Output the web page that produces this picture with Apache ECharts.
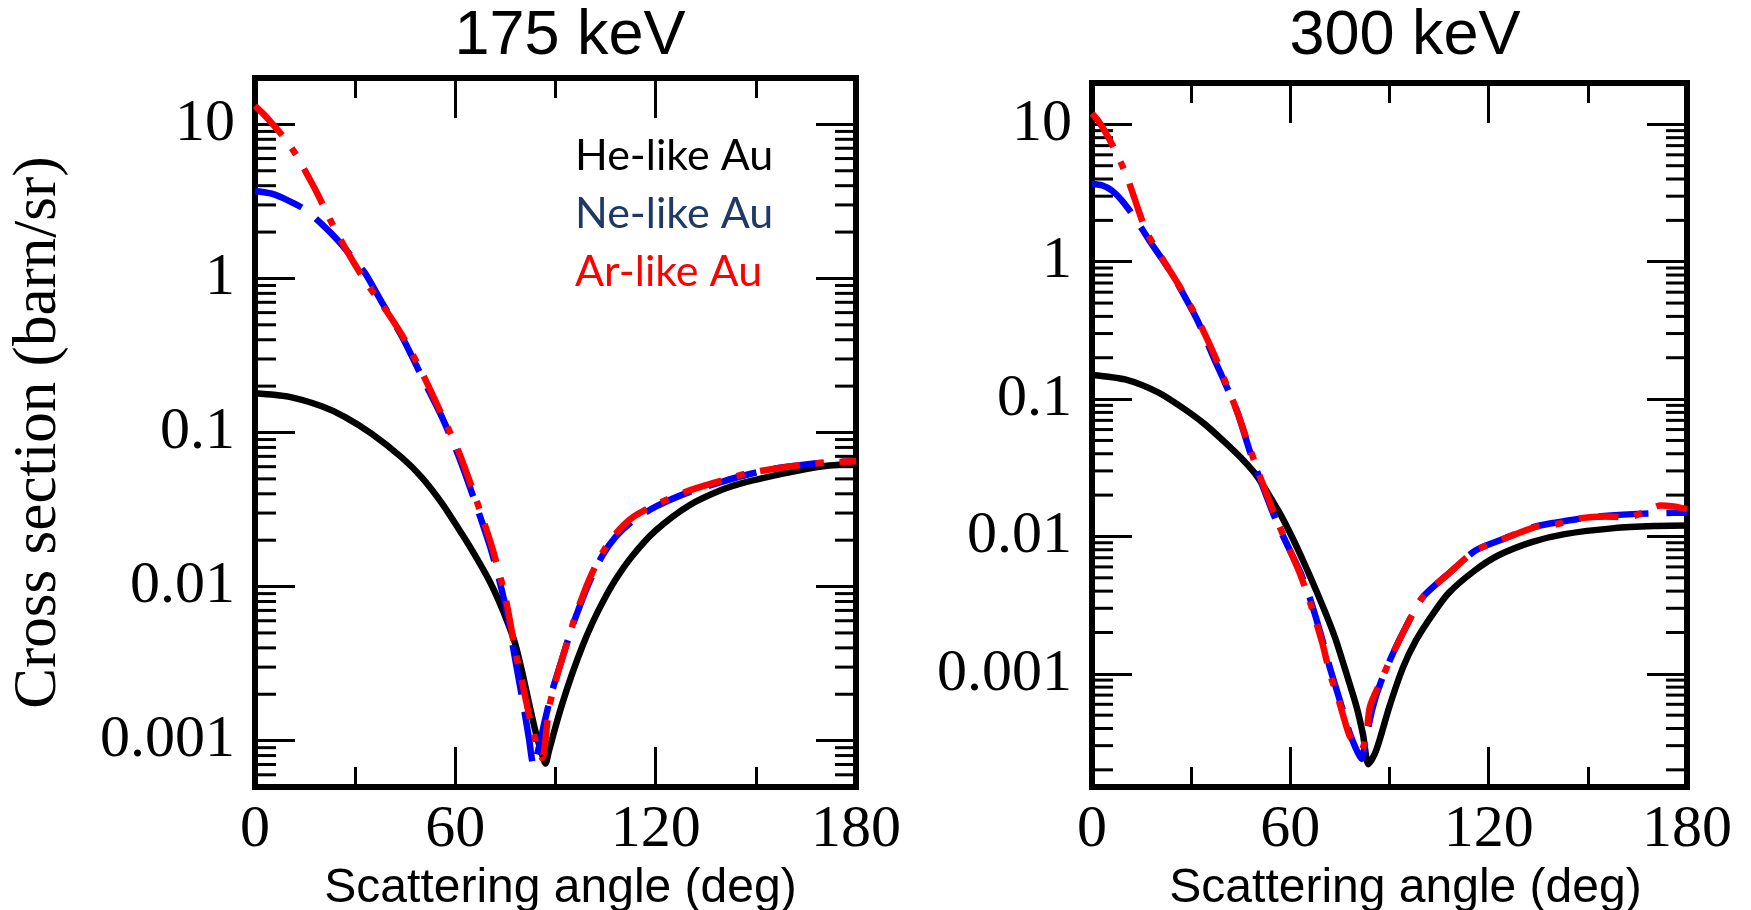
<!DOCTYPE html>
<html>
<head>
<meta charset="utf-8">
<script src="https://cdn.jsdelivr.net/npm/echarts@6/dist/echarts.min.js"></script>
<style>
html,body{margin:0;padding:0;background:#fff;}
#chart{width:1751px;height:910px;}
</style>
</head>
<body>
<div id="chart"></div>
<script>
// ---------- data ----------
const panelTitles = ['175 keV', '300 keV'];
const seriesNames = ['He-like Au', 'Ne-like Au', 'Ar-like Au'];
const xTickInterval = 60;
const xRange = [0, 180];
const yRange175 = [0.0005, 20];
const yRange300 = [0.00015, 20];

// 175 keV
const ang175He = [0,10,20,27,35,44,50,56,62,66,70,73,76,78,80,82,84,86,87,88,90,92,95,98,101,104,108,113,120,130,140,147,155,165,172,180];
const he175    = [0.18,0.171,0.148,0.126,0.098,0.0687,0.051,0.0347,0.0219,0.0158,0.0111,0.0081,0.0056,0.0042,0.0028,0.00178,0.00115,0.00081,0.00071,0.00085,0.00123,0.00173,0.00272,0.00407,0.00578,0.00783,0.0111,0.0158,0.0231,0.0336,0.0426,0.0476,0.0523,0.058,0.061,0.063];
const ang175Ne = [0,5,10,15,20,25,30,33,38,44,50,56,61,66,71,75,78,80,82,83.5,85,87,89,91,94,96,100,104,108,113,120,130,140,147,155,165,172,180];
const ne175    = [3.7,3.55,3.2,2.8,2.25,1.75,1.3,1.08,0.70,0.42,0.23,0.126,0.07,0.035,0.0165,0.0075,0.0033,0.0019,0.00105,0.00068,0.0009,0.0014,0.0021,0.0029,0.0047,0.0063,0.0105,0.0158,0.021,0.0265,0.033,0.041,0.048,0.053,0.058,0.062,0.064,0.065];
const ang175Ar = [0,2.5,5,8.5,12,15,18.7,22.5,27,33,38,44,50,56,61,66,71,75,78,80,82,84,86,88,89,91,94,96,100,104,108,113,120,130,140,147,155,165,172,180];
const ar175    = [13.2,11.7,10.2,8.3,6.5,5.0,3.55,2.4,1.58,0.96,0.68,0.43,0.245,0.13,0.075,0.038,0.018,0.0085,0.0038,0.0024,0.0015,0.001,0.00077,0.0016,0.002,0.0029,0.0047,0.0065,0.011,0.0165,0.022,0.028,0.034,0.042,0.049,0.054,0.058,0.062,0.064,0.065];

// 300 keV
const ang300He = [0,10,20,27,34,40,45,50,56.5,60,63,66,69.6,72,74,77,80,82,83.6,85.5,87,90,94,98,103,108,116,123,133,143,158,170,180];
const he300    = [0.15,0.139,0.112,0.0877,0.066,0.049,0.0375,0.0273,0.0152,0.0105,0.0074,0.0051,0.0032,0.0023,0.0017,0.001,0.00058,0.00036,0.00022,0.00026,0.00033,0.00058,0.0011,0.00175,0.0027,0.0039,0.0057,0.0073,0.0091,0.0104,0.0115,0.0119,0.012];
const ang300Ne = [0,3,6,9,12,15,18,21.5,24,27,32,37,40,44,48,52,56,60,63,66,69.6,72,74.5,77.8,80,81.5,83,85,87.6,91,95,100,108,116,124,134,148,155,165,172,180];
const ne300    = [3.7,3.6,3.3,2.8,2.25,1.75,1.35,1.02,0.83,0.62,0.37,0.195,0.135,0.08,0.04,0.022,0.0125,0.0078,0.0055,0.0035,0.0018,0.0011,0.0007,0.00038,0.00028,0.00024,0.00035,0.00058,0.0009,0.0014,0.0022,0.0036,0.0054,0.0079,0.0095,0.0118,0.0135,0.0141,0.0146,0.0148,0.0149];
const ang300Ar = [0,2,4,6.4,9,11,13.5,16.5,21.5,27,32,37,40,44,48,52,56,60,63,66,69.6,72,74.5,77.8,80,81.5,83,84.1,87.6,91,95,100,108,116,124,134.5,140,148,155,162,167,172,176,180];
const ar300    = [12,10.5,8.8,6.9,5.1,3.9,2.6,1.65,1.03,0.63,0.38,0.21,0.14,0.08,0.042,0.023,0.013,0.0078,0.0053,0.0033,0.0017,0.001,0.00066,0.00036,0.0003,0.00028,0.00036,0.00058,0.00091,0.0014,0.0022,0.0036,0.0054,0.0079,0.0095,0.0118,0.0122,0.0136,0.014,0.0138,0.015,0.0168,0.0165,0.0158];

// ---------- helpers ----------
const pairs = (xs, ys) => xs.map((x, i) => [x, ys[i]]);
function minorTickValues(range) {
  const out = [];
  const e0 = Math.floor(Math.log10(range[0])), e1 = Math.ceil(Math.log10(range[1]));
  for (let e = e0; e <= e1; e++) {
    for (let k = 2; k <= 9; k++) {
      const v = k * Math.pow(10, e);
      if (v > range[0] * 1.0001 && v < range[1] * 0.9999) out.push([0, v]);
    }
  }
  return out;
}
const fmt = v => String(Number(Number(v).toPrecision(6)));

const SERIF = 'Liberation Serif';
const SANS = 'Liberation Sans';
const BLACK = '#000000', BLUE = '#0000FF', RED = '#FF0000';
const LW = 6.5;
const BLUE_DASH = [50, 18];
const RED_DASH = [40, 16, 8, 16];

const grids = [
  {left: 255, top: 78, width: 601, height: 709},
  {left: 1092, top: 83, width: 595, height: 704}
];

function xAxes(gi, namePadLeft) {
  const base = {
    gridIndex: gi, type: 'value', min: xRange[0], max: xRange[1], interval: xTickInterval,
    axisLine: {show: false, onZero: false},
    axisTick: {show: true, inside: true, length: 40, lineStyle: {color: BLACK, width: 3}},
    minorTick: {show: true, splitNumber: 2, length: 20, lineStyle: {color: BLACK, width: 3}},
    splitLine: {show: false}, minorSplitLine: {show: false}
  };
  return [
    Object.assign({}, base, {
      position: 'bottom',
      axisLabel: {show: true, fontFamily: SERIF, fontSize: 60, color: BLACK, margin: 13},
      name: 'Scattering angle (deg)', nameLocation: 'middle', nameGap: 70,
      nameTextStyle: {fontFamily: SANS, fontSize: 48, color: BLACK, padding: [0, 0, 0, namePadLeft]}
    }),
    Object.assign({}, base, {position: 'top', axisLabel: {show: false}})
  ];
}
function yAxes(gi, range, withName) {
  const base = {
    gridIndex: gi, type: 'log', logBase: 10, min: range[0], max: range[1],
    axisLine: {show: false, onZero: false},
    axisTick: {show: true, inside: true, length: 40, lineStyle: {color: BLACK, width: 3}},
    splitLine: {show: false}
  };
  const left = Object.assign({}, base, {
    position: 'left',
    axisLabel: {show: true, fontFamily: SERIF, fontSize: 60, color: BLACK, margin: 20,
      showMinLabel: false, showMaxLabel: false, formatter: fmt}
  });
  if (withName) {
    Object.assign(left, {
      name: 'Cross section (barn/sr)', nameLocation: 'middle', nameGap: 186, nameRotate: 90,
      nameTextStyle: {fontFamily: SERIF, fontSize: 61, color: BLACK}
    });
  }
  const right = Object.assign({}, base, {position: 'right', axisLabel: {show: false}});
  return [left, right];
}

function lineSeries(name, xi, yi, data, color, type, z) {
  return {
    name, type: 'line', xAxisIndex: xi, yAxisIndex: yi, data,
    showSymbol: false, symbol: 'none', smooth: 0.25, z,
    lineStyle: {color, width: LW, type, cap: 'butt'},
    itemStyle: {color}, emphasis: {disabled: true}, silent: true
  };
}
function minorTickSeries(xi, yi, range) {
  return {
    type: 'custom', xAxisIndex: xi, yAxisIndex: yi, silent: true, z: 1,
    data: minorTickValues(range),
    renderItem: (params, api) => {
      const y = api.coord([xRange[0], api.value(1)])[1];
      const cs = params.coordSys;
      return {type: 'group', children: [
        {type: 'line', shape: {x1: cs.x, y1: y, x2: cs.x + 21, y2: y}, style: {stroke: BLACK, lineWidth: 3}},
        {type: 'line', shape: {x1: cs.x + cs.width - 21, y1: y, x2: cs.x + cs.width, y2: y}, style: {stroke: BLACK, lineWidth: 3}}
      ]};
    }
  };
}

const option = {
  backgroundColor: '#ffffff',
  animation: false,
  title: [
    {text: panelTitles[0], left: 565, top: 0, textAlign: 'center',
     textStyle: {fontFamily: SANS, fontSize: 63, fontWeight: 'normal', color: BLACK}},
    {text: panelTitles[1], left: 1400, top: 0, textAlign: 'center',
     textStyle: {fontFamily: SANS, fontSize: 63, fontWeight: 'normal', color: BLACK}}
  ],
  legend: {
    show: true, orient: 'vertical', left: 565, top: 130, itemWidth: 0, itemHeight: 0, itemGap: 15,
    icon: 'rect', selectedMode: false,
    textStyle: {fontFamily: 'Lato', fontSize: 43},
    data: [
      {name: seriesNames[0], textStyle: {color: '#000000'}},
      {name: seriesNames[1], textStyle: {color: '#1F3864'}},
      {name: seriesNames[2], textStyle: {color: '#FF0000'}}
    ]
  },
  grid: grids.map(g => Object.assign({show: true, borderColor: BLACK, borderWidth: 6, backgroundColor: 'transparent', containLabel: false, outerBoundsMode: 'none'}, g)),
  xAxis: [...xAxes(0, 10), ...xAxes(1, 32)],
  yAxis: [...yAxes(0, yRange175, true), ...yAxes(1, yRange300, false)],
  series: [
    minorTickSeries(0, 0, yRange175),
    minorTickSeries(2, 2, yRange300),
    lineSeries(seriesNames[0], 0, 0, pairs(ang175He, he175), BLACK, 'solid', 3),
    lineSeries(seriesNames[1], 0, 0, pairs(ang175Ne, ne175), BLUE, BLUE_DASH, 4),
    lineSeries(seriesNames[2], 0, 0, pairs(ang175Ar, ar175), RED, RED_DASH, 5),
    lineSeries(seriesNames[0], 2, 2, pairs(ang300He, he300), BLACK, 'solid', 3),
    lineSeries(seriesNames[1], 2, 2, pairs(ang300Ne, ne300), BLUE, BLUE_DASH, 4),
    lineSeries(seriesNames[2], 2, 2, pairs(ang300Ar, ar300), RED, RED_DASH, 5)
  ]
};

const chart = echarts.init(document.getElementById('chart'), null, {renderer: 'canvas'});
chart.setOption(option);
</script>
</body>
</html>
